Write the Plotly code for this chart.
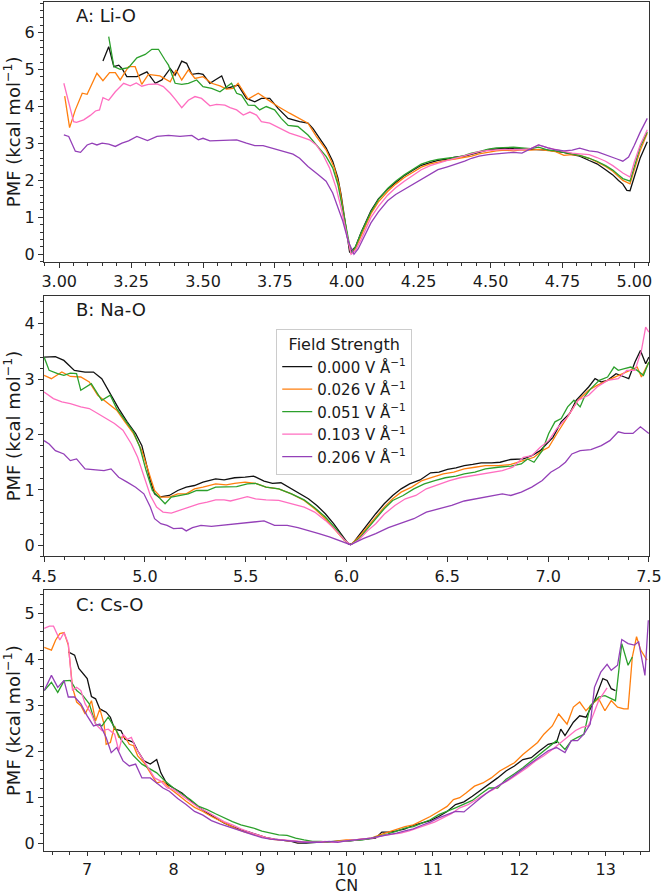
import plotly.graph_objects as go

labels = ["0.000 V Å<sup>−1</sup>", "0.026 V Å<sup>−1</sup>", "0.051 V Å<sup>−1</sup>",
          "0.103 V Å<sup>−1</sup>", "0.206 V Å<sup>−1</sup>"]
colors = ["#111111", "#ff7f0e", "#2ca02c", "#ff6ec0", "#9440b8"]

# ---------------- Panel A: Li-O ----------------
A_black_x = [3.152, 3.172, 3.19, 3.207, 3.218, 3.235, 3.27, 3.305, 3.334, 3.357, 3.386, 3.403, 3.426, 3.443, 3.461,
             3.484, 3.5, 3.524, 3.542, 3.565, 3.582, 3.605, 3.622, 3.651, 3.68, 3.703, 3.732, 3.761, 3.796, 3.836,
             3.865, 3.882, 3.9, 3.928, 3.951, 3.969, 3.98, 3.995, 4.01, 4.03, 4.05, 4.084, 4.11, 4.142, 4.17, 4.2,
             4.23, 4.259, 4.29, 4.317, 4.35, 4.376, 4.41, 4.434, 4.46, 4.492, 4.52, 4.55, 4.58, 4.609, 4.64, 4.667,
             4.7, 4.726, 4.755, 4.784, 4.81, 4.843, 4.87, 4.9, 4.925, 4.945, 4.96, 4.974, 4.985, 5.0, 5.02, 5.045]
A_black_y = [5.23, 5.62, 5.08, 5.12, 5.03, 4.81, 4.81, 4.94, 4.63, 4.72, 5.03, 4.85, 5.23, 5.17, 4.87,
             4.9, 4.87, 4.63, 4.72, 4.83, 4.49, 4.54, 4.58, 4.22, 4.13, 4.22, 4.22, 3.95, 3.68, 3.59,
             3.55, 3.41, 3.19, 2.88, 2.52, 2.07, 1.62, 0.8, 0.05, 0.2, 0.6, 1.18, 1.5, 1.76, 1.95, 2.13,
             2.28, 2.41, 2.48, 2.54, 2.58, 2.63, 2.66, 2.71, 2.76, 2.83, 2.85, 2.875, 2.86, 2.85, 2.84, 2.83,
             2.82, 2.79, 2.76, 2.7, 2.66, 2.54, 2.45, 2.29, 2.15, 2.0, 1.9, 1.73, 1.72, 2.1, 2.6, 3.05]

A_orange_x = [3.019, 3.036, 3.056, 3.08, 3.097, 3.131, 3.152, 3.175, 3.195, 3.212, 3.241, 3.264, 3.287, 3.31, 3.35,
              3.386, 3.406, 3.426, 3.449, 3.472, 3.5, 3.53, 3.559, 3.582, 3.605, 3.622, 3.657, 3.692, 3.726, 3.761,
              3.801, 3.836, 3.865, 3.894, 3.928, 3.957, 3.975, 3.986, 4.0, 4.015, 4.03, 4.05, 4.084, 4.11, 4.142,
              4.17, 4.2, 4.23, 4.259, 4.29, 4.317, 4.35, 4.376, 4.41, 4.434, 4.46, 4.492, 4.52, 4.55, 4.58, 4.609,
              4.64, 4.667, 4.7, 4.726, 4.755, 4.784, 4.81, 4.843, 4.87, 4.9, 4.925, 4.945, 4.96, 4.985, 5.0, 5.02, 5.045]
A_orange_y = [4.28, 3.43, 3.91, 4.36, 4.33, 4.9, 4.7, 4.92, 4.92, 4.72, 5.08, 5.08, 4.6, 4.87, 4.83,
              4.67, 4.99, 4.72, 4.99, 4.76, 4.81, 4.63, 4.56, 4.47, 4.49, 4.63, 4.2, 4.36, 4.18, 4.0,
              3.82, 3.68, 3.55, 3.19, 2.83, 2.34, 1.8, 1.26, 0.55, 0.02, 0.15, 0.5, 1.1, 1.42, 1.7,
              1.9, 2.08, 2.22, 2.36, 2.45, 2.5, 2.55, 2.58, 2.62, 2.66, 2.72, 2.77, 2.8, 2.82, 2.8, 2.83,
              2.82, 2.84, 2.8, 2.78, 2.68, 2.7, 2.68, 2.6, 2.5, 2.38, 2.25, 2.12, 2.0, 1.91, 2.3, 2.8, 3.28]

A_green_x = [3.172, 3.19, 3.212, 3.241, 3.27, 3.299, 3.322, 3.345, 3.368, 3.38, 3.403, 3.426, 3.449, 3.478, 3.5,
             3.53, 3.559, 3.599, 3.617, 3.634, 3.657, 3.68, 3.697, 3.72, 3.749, 3.772, 3.796, 3.83, 3.865, 3.9,
             3.928, 3.951, 3.969, 3.984, 4.0, 4.015, 4.03, 4.05, 4.084, 4.11, 4.142, 4.17, 4.2, 4.23, 4.259, 4.29,
             4.317, 4.35, 4.376, 4.41, 4.434, 4.46, 4.492, 4.52, 4.55, 4.58, 4.609, 4.64, 4.667, 4.7, 4.726, 4.755,
             4.784, 4.81, 4.843, 4.87, 4.9, 4.925, 4.945, 4.96, 4.985, 5.0, 5.02, 5.045]
A_green_y = [5.89, 5.08, 5.01, 5.05, 5.32, 5.41, 5.55, 5.55, 5.26, 5.12, 4.63, 4.6, 4.63, 4.72, 4.54,
             4.49, 4.4, 4.63, 4.36, 4.31, 4.04, 4.03, 3.91, 4.0, 3.91, 3.68, 3.49, 3.46, 3.23, 2.92,
             2.65, 2.34, 1.89, 1.3, 0.6, 0.03, 0.2, 0.58, 1.15, 1.48, 1.78, 1.98, 2.15, 2.3, 2.44, 2.52,
             2.57, 2.6, 2.62, 2.68, 2.74, 2.78, 2.85, 2.88, 2.9, 2.9, 2.88, 2.86, 2.9, 2.82, 2.8, 2.76,
             2.72, 2.68, 2.6, 2.52, 2.4, 2.28, 2.15, 2.05, 1.98, 2.4, 2.9, 3.32]

A_pink_x = [3.016, 3.05, 3.06, 3.085, 3.108, 3.126, 3.14, 3.152, 3.172, 3.195, 3.224, 3.247, 3.268, 3.287, 3.31,
            3.34, 3.362, 3.386, 3.403, 3.426, 3.449, 3.472, 3.495, 3.524, 3.547, 3.576, 3.594, 3.617, 3.64, 3.663,
            3.686, 3.703, 3.732, 3.767, 3.801, 3.836, 3.87, 3.894, 3.917, 3.94, 3.963, 3.98, 3.99, 4.005, 4.015,
            4.03, 4.05, 4.084, 4.11, 4.142, 4.17, 4.2, 4.23, 4.259, 4.29, 4.317, 4.35, 4.376, 4.41, 4.434, 4.46,
            4.492, 4.52, 4.55, 4.58, 4.609, 4.64, 4.667, 4.7, 4.726, 4.755, 4.784, 4.81, 4.843, 4.87, 4.9, 4.925,
            4.945, 4.96, 4.985, 5.0, 5.02, 5.045]
A_pink_y = [4.63, 3.59, 3.57, 3.64, 3.76, 3.88, 3.91, 4.24, 4.17, 4.4, 4.63, 4.56, 4.64, 4.55, 4.6,
            4.61, 4.54, 4.36, 4.2, 3.97, 4.17, 4.27, 4.22, 4.02, 4.06, 4.04, 3.97, 3.91, 3.77, 3.85,
            3.77, 3.59, 3.55, 3.41, 3.28, 3.19, 3.1, 2.96, 2.7, 2.34, 1.8, 1.26, 0.9, 0.3, 0.0,
            0.1, 0.4, 1.0, 1.3, 1.6, 1.8, 1.98, 2.14, 2.29, 2.4, 2.47, 2.54, 2.6, 2.67, 2.74, 2.78,
            2.81, 2.83, 2.84, 2.83, 2.83, 2.86, 2.96, 2.88, 2.83, 2.78, 2.74, 2.72, 2.7, 2.62, 2.52, 2.4,
            2.29, 2.2, 2.09, 2.5, 2.95, 3.37]

A_purple_x = [3.016, 3.033, 3.056, 3.074, 3.097, 3.114, 3.131, 3.149, 3.172, 3.195, 3.218, 3.241, 3.27, 3.307,
              3.34, 3.38, 3.42, 3.461, 3.484, 3.5, 3.524, 3.57, 3.617, 3.651, 3.68, 3.709, 3.744, 3.778, 3.813,
              3.836, 3.865, 3.9, 3.928, 3.951, 3.975, 3.986, 4.005, 4.025, 4.04, 4.06, 4.084, 4.11, 4.142, 4.17,
              4.2, 4.23, 4.259, 4.29, 4.317, 4.35, 4.376, 4.41, 4.434, 4.46, 4.492, 4.52, 4.55, 4.58, 4.609, 4.64,
              4.667, 4.7, 4.726, 4.755, 4.784, 4.81, 4.843, 4.872, 4.9, 4.915, 4.94, 4.96, 4.98, 5.0, 5.02, 5.045]
A_purple_y = [3.23, 3.19, 2.79, 2.76, 2.96, 3.01, 2.96, 3.01, 2.98, 2.92, 3.01, 3.07, 3.19, 3.08,
              3.19, 3.22, 3.19, 3.22, 3.1, 3.14, 3.07, 3.08, 3.1, 3.01, 2.94, 2.94, 2.86, 2.79, 2.71,
              2.6, 2.38, 2.16, 1.98, 1.66, 1.17, 0.9, 0.35, 0.0, 0.15, 0.45, 0.85, 1.15, 1.45, 1.62,
              1.76, 1.9, 2.03, 2.17, 2.29, 2.37, 2.43, 2.52, 2.6, 2.66, 2.7, 2.72, 2.74, 2.76, 2.74, 2.85,
              2.96, 2.88, 2.83, 2.8, 2.82, 2.875, 2.8, 2.77, 2.7, 2.65, 2.58, 2.52, 2.63, 2.95, 3.3, 3.68]

# ---------------- Panel B: Na-O ----------------
B_black_x = [4.5, 4.556, 4.598, 4.65, 4.703, 4.745, 4.786, 4.828, 4.87, 4.912, 4.954, 4.985, 5.006, 5.027, 5.048,
             5.069, 5.121, 5.163, 5.205, 5.246, 5.288, 5.351, 5.393, 5.445, 5.497, 5.539, 5.591, 5.633, 5.675,
             5.727, 5.769, 5.811, 5.853, 5.895, 5.936, 5.978, 6.01, 6.03, 6.062, 6.104, 6.145, 6.187, 6.229,
             6.271, 6.313, 6.365, 6.417, 6.459, 6.501, 6.543, 6.584, 6.626, 6.668, 6.72, 6.762, 6.815, 6.877,
             6.919, 6.961, 6.992, 7.024, 7.065, 7.107, 7.139, 7.17, 7.201, 7.233, 7.264, 7.295, 7.337, 7.379,
             7.4, 7.431, 7.458, 7.484, 7.5]
B_black_y = [3.4, 3.41, 3.34, 3.16, 3.13, 3.13, 3.01, 2.74, 2.47, 2.23, 2.02, 1.8, 1.47, 1.17, 0.93,
             0.87, 0.9, 0.99, 1.05, 1.08, 1.14, 1.2, 1.18, 1.22, 1.23, 1.25, 1.16, 1.12, 1.13,
             1.02, 0.94, 0.84, 0.72, 0.57, 0.39, 0.18, 0.02, 0.03, 0.18, 0.39, 0.57, 0.75, 0.9,
             1.02, 1.11, 1.18, 1.31, 1.32, 1.37, 1.4, 1.44, 1.46, 1.49, 1.49, 1.5, 1.55, 1.56,
             1.62, 1.71, 1.83, 1.95, 2.23, 2.38, 2.62, 2.74, 2.86, 3.01, 2.95, 2.98, 3.1, 3.04,
             3.01, 3.31, 3.52, 3.28, 3.4]

B_orange_x = [4.5, 4.536, 4.588, 4.63, 4.682, 4.724, 4.766, 4.818, 4.86, 4.901, 4.943, 4.985, 5.016, 5.048,
              5.079, 5.121, 5.163, 5.205, 5.246, 5.288, 5.351, 5.403, 5.445, 5.497, 5.549, 5.601, 5.664, 5.727,
              5.79, 5.842, 5.895, 5.947, 5.989, 6.02, 6.062, 6.104, 6.145, 6.187, 6.229, 6.271, 6.323, 6.375,
              6.428, 6.48, 6.532, 6.584, 6.637, 6.689, 6.752, 6.815, 6.877, 6.93, 6.971, 7.003, 7.044, 7.097,
              7.149, 7.201, 7.243, 7.295, 7.348, 7.4, 7.442, 7.463, 7.5]
B_orange_y = [3.07, 3.01, 3.13, 3.05, 3.04, 2.95, 2.71, 2.56, 2.44, 2.23, 2.02, 1.71, 1.35, 0.99,
              0.87, 0.87, 0.93, 0.93, 1.02, 1.05, 1.11, 1.09, 1.12, 1.14, 1.12, 1.05, 1.02, 0.93,
              0.81, 0.66, 0.48, 0.27, 0.09, 0.01, 0.15, 0.33, 0.51, 0.69, 0.84, 0.96, 1.05, 1.17,
              1.23, 1.29, 1.32, 1.38, 1.41, 1.44, 1.44, 1.46, 1.53, 1.59, 1.71, 1.77, 2.02, 2.32,
              2.62, 2.8, 2.89, 2.98, 3.07, 3.16, 3.22, 3.04, 3.31]

B_green_x = [4.5, 4.525, 4.567, 4.598, 4.63, 4.661, 4.682, 4.734, 4.786, 4.828, 4.86, 4.901, 4.943, 4.975, 5.006,
             5.037, 5.069, 5.1, 5.131, 5.173, 5.215, 5.257, 5.309, 5.351, 5.403, 5.455, 5.508, 5.549, 5.601, 5.664,
             5.727, 5.79, 5.842, 5.895, 5.947, 5.989, 6.02, 6.062, 6.104, 6.145, 6.187, 6.229, 6.281, 6.334, 6.386,
             6.438, 6.49, 6.543, 6.584, 6.637, 6.689, 6.752, 6.815, 6.867, 6.898, 6.93, 6.971, 7.003, 7.034, 7.065,
             7.097, 7.128, 7.159, 7.18, 7.212, 7.254, 7.295, 7.327, 7.348, 7.379, 7.41, 7.442, 7.473, 7.5]
B_green_y = [3.4, 3.16, 3.1, 3.07, 3.11, 3.1, 2.8, 2.92, 2.62, 2.71, 2.47, 2.26, 2.05, 1.77, 1.35,
             0.99, 0.87, 0.75, 0.87, 0.9, 0.93, 0.99, 0.99, 1.05, 1.05, 1.06, 1.11, 1.12, 1.05, 1.02,
             0.93, 0.82, 0.68, 0.51, 0.3, 0.1, 0.01, 0.12, 0.3, 0.48, 0.66, 0.81, 0.9, 1.02, 1.11,
             1.17, 1.22, 1.25, 1.29, 1.32, 1.38, 1.41, 1.43, 1.47, 1.56, 1.5, 1.71, 2.02, 2.23, 2.29,
             2.5, 2.62, 2.5, 2.68, 2.83, 2.98, 3.04, 3.22, 3.16, 3.19, 3.22, 3.16, 3.07, 3.31]

B_pink_x = [4.5, 4.546, 4.588, 4.63, 4.682, 4.724, 4.766, 4.807, 4.849, 4.891, 4.933, 4.964, 4.995, 5.027, 5.058,
            5.09, 5.131, 5.173, 5.225, 5.267, 5.309, 5.351, 5.393, 5.424, 5.466, 5.508, 5.549, 5.601, 5.664, 5.727,
            5.79, 5.842, 5.895, 5.947, 5.989, 6.02, 6.062, 6.104, 6.145, 6.187, 6.24, 6.292, 6.344, 6.396, 6.459,
            6.511, 6.563, 6.615, 6.668, 6.72, 6.773, 6.825, 6.877, 6.919, 6.961, 7.003, 7.044, 7.097, 7.149, 7.201,
            7.243, 7.295, 7.348, 7.39, 7.431, 7.463, 7.484, 7.5]
B_pink_y = [2.77, 2.65, 2.59, 2.56, 2.5, 2.47, 2.38, 2.29, 2.2, 2.08, 1.83, 1.59, 1.23, 0.9, 0.69,
            0.6, 0.58, 0.63, 0.69, 0.75, 0.78, 0.82, 0.82, 0.8, 0.84, 0.88, 0.84, 0.82, 0.81, 0.75,
            0.69, 0.6, 0.45, 0.27, 0.1, 0.01, 0.1, 0.26, 0.39, 0.56, 0.72, 0.84, 0.9, 1.02, 1.11,
            1.17, 1.22, 1.25, 1.29, 1.32, 1.35, 1.41, 1.59, 1.62, 1.77, 1.89, 2.11, 2.32, 2.62, 2.71,
            2.86, 2.98, 3.01, 3.16, 3.16, 3.52, 3.94, 3.85]

B_purple_x = [4.5, 4.525, 4.556, 4.598, 4.63, 4.661, 4.703, 4.755, 4.797, 4.832, 4.87, 4.912, 4.954, 4.995, 5.027,
              5.048, 5.079, 5.11, 5.142, 5.184, 5.205, 5.236, 5.278, 5.33, 5.382, 5.435, 5.497, 5.549, 5.591, 5.643,
              5.706, 5.759, 5.811, 5.863, 5.915, 5.967, 6.02, 6.083, 6.145, 6.208, 6.271, 6.334, 6.396, 6.459, 6.522,
              6.584, 6.647, 6.71, 6.773, 6.815, 6.867, 6.919, 6.971, 7.013, 7.055, 7.086, 7.118, 7.159, 7.212, 7.264,
              7.306, 7.348, 7.379, 7.421, 7.458, 7.5]
B_purple_y = [1.89, 1.83, 1.71, 1.65, 1.53, 1.56, 1.38, 1.37, 1.35, 1.38, 1.23, 1.14, 1.05, 0.93, 0.69,
              0.48, 0.39, 0.36, 0.3, 0.31, 0.26, 0.32, 0.36, 0.34, 0.36, 0.39, 0.4, 0.42, 0.44, 0.36,
              0.36, 0.32, 0.27, 0.21, 0.15, 0.08, 0.01, 0.12, 0.21, 0.32, 0.4, 0.48, 0.6, 0.66, 0.72,
              0.8, 0.84, 0.88, 0.93, 0.9, 0.96, 1.05, 1.17, 1.32, 1.41, 1.5, 1.65, 1.71, 1.73, 1.8,
              1.89, 2.05, 2.02, 2.02, 2.14, 2.02]

# ---------------- Panel C: Cs-O ----------------
C_black_x = [6.78, 6.854, 6.903, 6.976, 7.0, 7.049, 7.097, 7.146, 7.219, 7.268, 7.317, 7.39, 7.438, 7.487, 7.536,
             7.584, 7.657, 7.73, 7.804, 7.852, 7.925, 7.998, 8.096, 8.193, 8.291, 8.388, 8.485, 8.583, 8.68, 8.778,
             8.875, 8.972, 9.07, 9.167, 9.265, 9.362, 9.435, 9.533, 9.654, 9.752, 9.849, 9.946, 10.044, 10.141,
             10.239, 10.336, 10.409, 10.482, 10.58, 10.677, 10.774, 10.872, 10.969, 11.067, 11.164, 11.261, 11.359,
             11.456, 11.554, 11.651, 11.748, 11.846, 11.943, 12.041, 12.138, 12.235, 12.333, 12.43, 12.479, 12.528,
             12.625, 12.698, 12.771, 12.869, 12.917, 12.966, 13.015, 13.063, 13.112]
C_black_y = [4.16, 4.09, 3.8, 3.63, 3.58, 3.19, 3.14, 2.92, 2.85, 2.74, 2.48, 2.45, 2.26, 2.23, 2.19,
             2.01, 1.79, 1.72, 1.82, 1.53, 1.28, 1.2, 1.09, 0.93, 0.78, 0.66, 0.55, 0.44, 0.36, 0.29,
             0.24, 0.18, 0.12, 0.09, 0.07, 0.04, 0.0, 0.0, 0.02, 0.02, 0.04, 0.04, 0.05, 0.07,
             0.09, 0.11, 0.24, 0.24, 0.27, 0.31, 0.39, 0.44, 0.49, 0.58, 0.69, 0.84, 0.9,
             1.02, 1.15, 1.29, 1.42, 1.57, 1.68, 1.82, 1.86, 2.01, 2.15, 2.19, 2.48, 2.34,
             2.63, 2.77, 2.74, 3.1, 3.32, 3.58, 3.54, 3.36, 3.32]

C_orange_x = [6.503, 6.586, 6.635, 6.683, 6.732, 6.781, 6.83, 6.878, 6.927, 6.976, 7.049, 7.097, 7.146, 7.195,
              7.219, 7.268, 7.317, 7.365, 7.438, 7.487, 7.536, 7.584, 7.657, 7.73, 7.804, 7.877, 7.95, 8.047, 8.144,
              8.242, 8.339, 8.437, 8.534, 8.632, 8.729, 8.826, 8.924, 9.021, 9.119, 9.216, 9.313, 9.411, 9.508,
              9.606, 9.703, 9.8, 9.898, 9.995, 10.093, 10.19, 10.287, 10.385, 10.482, 10.58, 10.677, 10.774, 10.872,
              10.969, 11.067, 11.164, 11.237, 11.31, 11.383, 11.481, 11.578, 11.675, 11.773, 11.846, 11.943, 12.041,
              12.138, 12.211, 12.284, 12.381, 12.455, 12.552, 12.625, 12.698, 12.771, 12.844, 12.917, 12.99, 13.063,
              13.136, 13.209, 13.258, 13.307, 13.356, 13.404, 13.477]
C_orange_y = [4.26, 4.2, 4.42, 4.56, 4.58, 4.31, 3.39, 3.07, 2.99, 2.81, 3.1, 2.66, 2.92, 2.59,
              2.15, 2.19, 2.55, 2.3, 2.31, 2.15, 2.12, 1.9, 1.75, 1.53, 1.31, 1.35, 1.2, 1.06, 0.91,
              0.78, 0.69, 0.58, 0.49, 0.4, 0.31, 0.24, 0.2, 0.15, 0.09, 0.07, 0.05, 0.04, 0.02,
              0.02, 0.02, 0.02, 0.05, 0.07, 0.07, 0.09, 0.11, 0.18, 0.24, 0.31, 0.36, 0.4, 0.49,
              0.58, 0.69, 0.8, 0.95, 0.99, 1.09, 1.24, 1.31, 1.42, 1.57, 1.64, 1.75, 1.93,
              2.08, 2.19, 2.37, 2.55, 2.81, 2.59, 2.96, 3.07, 2.88, 3.03, 3.14, 2.88, 3.1,
              2.96, 2.92, 2.92, 4.05, 4.49, 4.2, 3.98]

C_green_x = [6.503, 6.586, 6.659, 6.732, 6.805, 6.878, 6.951, 7.024, 7.097, 7.17, 7.243, 7.317, 7.39, 7.463, 7.536,
             7.633, 7.73, 7.804, 7.901, 7.998, 8.096, 8.193, 8.291, 8.388, 8.485, 8.583, 8.68, 8.778, 8.875, 8.924,
             9.021, 9.119, 9.216, 9.313, 9.411, 9.508, 9.606, 9.703, 9.8, 9.898, 9.995, 10.093, 10.19, 10.287,
             10.385, 10.482, 10.58, 10.677, 10.774, 10.872, 10.969, 11.067, 11.164, 11.261, 11.359, 11.456, 11.554,
             11.651, 11.748, 11.846, 11.943, 12.041, 12.138, 12.235, 12.333, 12.43, 12.528, 12.601, 12.674, 12.747,
             12.82, 12.917, 12.99, 13.063, 13.112, 13.185, 13.258, 13.307]
C_green_y = [3.32, 3.5, 3.28, 3.53, 3.54, 3.32, 3.21, 3.03, 2.59, 2.55, 2.74, 2.52, 2.26, 2.08, 1.9,
             1.72, 1.61, 1.53, 1.35, 1.2, 1.07, 0.95, 0.8, 0.73, 0.64, 0.55, 0.47, 0.4, 0.36, 0.33,
             0.26, 0.22, 0.18, 0.17, 0.11, 0.07, 0.04, 0.04, 0.02, 0.04, 0.05, 0.05, 0.07, 0.11,
             0.15, 0.2, 0.26, 0.33, 0.36, 0.44, 0.51, 0.62, 0.69, 0.77, 0.85, 0.93, 1.07,
             1.2, 1.2, 1.39, 1.51, 1.64, 1.79, 1.93, 2.08, 2.23, 2.04, 2.23, 2.3, 2.37,
             2.99, 3.18, 3.21, 3.14, 3.1, 4.34, 3.87, 4.05]

C_pink_x = [6.503, 6.562, 6.61, 6.683, 6.732, 6.781, 6.83, 6.878, 6.927, 6.976, 7.049, 7.097, 7.17, 7.243, 7.317,
            7.365, 7.414, 7.463, 7.511, 7.56, 7.633, 7.706, 7.779, 7.852, 7.925, 7.998, 8.096, 8.193, 8.291, 8.388,
            8.485, 8.583, 8.68, 8.778, 8.875, 8.972, 9.07, 9.167, 9.265, 9.362, 9.46, 9.557, 9.654, 9.752, 9.849,
            9.946, 10.044, 10.141, 10.239, 10.336, 10.433, 10.531, 10.628, 10.726, 10.823, 10.92, 11.018, 11.115,
            11.213, 11.31, 11.407, 11.505, 11.602, 11.7, 11.797, 11.894, 11.992, 12.089, 12.187, 12.284, 12.381,
            12.479, 12.576, 12.65, 12.722, 12.796, 12.844, 12.917, 13.015]
C_pink_y = [4.67, 4.72, 4.72, 4.42, 4.58, 4.34, 3.32, 3.39, 3.32, 3.03, 2.81, 2.59, 2.45, 2.48, 2.37,
            2.01, 2.37, 2.26, 2.3, 2.08, 1.86, 1.64, 1.42, 1.35, 1.2, 1.17, 1.04, 0.9, 0.77, 0.68,
            0.58, 0.47, 0.4, 0.31, 0.24, 0.18, 0.12, 0.09, 0.07, 0.05, 0.04, 0.02, 0.02, 0.04, 0.02,
            0.04, 0.05, 0.07, 0.09, 0.12, 0.17, 0.2, 0.22, 0.27, 0.33, 0.4, 0.46, 0.55,
            0.64, 0.77, 0.84, 0.95, 1.07, 1.17, 1.29, 1.39, 1.51, 1.64, 1.79, 1.9, 2.04,
            2.19, 2.34, 2.45, 2.52, 2.55, 2.74, 3.1, 3.38]

C_purple_x = [6.503, 6.537, 6.586, 6.659, 6.732, 6.781, 6.854, 6.927, 7.0, 7.073, 7.146, 7.219, 7.278, 7.341, 7.414,
              7.487, 7.56, 7.633, 7.73, 7.804, 7.877, 7.95, 8.047, 8.144, 8.242, 8.339, 8.437, 8.534, 8.632, 8.729,
              8.826, 8.924, 9.021, 9.119, 9.216, 9.313, 9.411, 9.508, 9.606, 9.703, 9.8, 9.898, 9.995, 10.093,
              10.19, 10.287, 10.385, 10.482, 10.58, 10.677, 10.774, 10.872, 10.969, 11.067, 11.164, 11.261, 11.359,
              11.456, 11.554, 11.651, 11.748, 11.846, 11.943, 12.041, 12.138, 12.235, 12.333, 12.43, 12.528, 12.601,
              12.674, 12.747, 12.82, 12.869, 12.942, 13.015, 13.063, 13.136, 13.185, 13.258, 13.331, 13.38, 13.453,
              13.492]
C_purple_y = [3.32, 3.47, 3.65, 3.39, 3.54, 3.18, 3.18, 3.03, 2.77, 2.55, 2.59, 2.3, 1.97, 2.08, 1.79,
              1.68, 1.72, 1.42, 1.42, 1.31, 1.2, 1.13, 0.97, 0.84, 0.69, 0.61, 0.49, 0.42, 0.36, 0.29,
              0.24, 0.18, 0.12, 0.09, 0.07, 0.05, 0.04, 0.02, 0.02, 0.02, 0.04, 0.02, 0.05, 0.07,
              0.09, 0.11, 0.15, 0.18, 0.22, 0.27, 0.31, 0.39, 0.46, 0.55, 0.62, 0.69, 0.68,
              0.84, 0.99, 1.13, 1.24, 1.35, 1.48, 1.61, 1.75, 1.88, 2.01, 2.08, 1.97, 2.23,
              2.23, 2.37, 2.59, 3.39, 3.72, 3.89, 3.76, 3.87, 4.43, 4.34, 4.31, 4.38, 3.65,
              4.85]

panel_titles = ["A: Li-O", "B: Na-O", "C: Cs-O"]
x_ranges = [[2.947, 5.051], [4.4995, 7.5005], [6.5, 13.5]]
y_ranges = [[-0.2, 6.83], [-0.2, 4.51], [-0.17, 5.5]]
x_tickvals = [[3.0, 3.25, 3.5, 3.75, 4.0, 4.25, 4.5, 4.75, 5.0],
              [4.5, 5.0, 5.5, 6.0, 6.5, 7.0, 7.5],
              [7, 8, 9, 10, 11, 12, 13]]
x_ticktext = [["3.00", "3.25", "3.50", "3.75", "4.00", "4.25", "4.50", "4.75", "5.00"],
              ["4.5", "5.0", "5.5", "6.0", "6.5", "7.0", "7.5"],
              ["7", "8", "9", "10", "11", "12", "13"]]
y_tickvals = [[0, 1, 2, 3, 4, 5, 6], [0, 1, 2, 3, 4], [0, 1, 2, 3, 4, 5]]
x_minor = [0.05, 0.1, 0.2]

panels = [
    [(A_black_x, A_black_y), (A_orange_x, A_orange_y), (A_green_x, A_green_y), (A_pink_x, A_pink_y), (A_purple_x, A_purple_y)],
    [(B_black_x, B_black_y), (B_orange_x, B_orange_y), (B_green_x, B_green_y), (B_pink_x, B_pink_y), (B_purple_x, B_purple_y)],
    [(C_black_x, C_black_y), (C_orange_x, C_orange_y), (C_green_x, C_green_y), (C_pink_x, C_pink_y), (C_purple_x, C_purple_y)],
]

W, H = 663, 894
ML, MR, MT, MB = 44, 12, 1, 43
plot_h = H - MT - MB
plot_w = W - ML - MR
extents = [(1, 261), (295, 556), (590, 851)]
domains = [[(H - MB - b) / plot_h, (H - MB - t) / plot_h] for t, b in extents]

fig = go.Figure()
font_family = "DejaVu Sans, Arial, sans-serif"

for p, series in enumerate(panels):
    xa = "x" if p == 0 else f"x{p+1}"
    ya = "y" if p == 0 else f"y{p+1}"
    for s, (xs, ys) in enumerate(series):
        fig.add_trace(go.Scatter(
            x=xs, y=ys, mode="lines", name=labels[s],
            line=dict(color=colors[s], width=1.3),
            xaxis=xa, yaxis=ya, showlegend=(p == 1)))

axis_common = dict(
    showline=True, mirror=True, linecolor="#333333", linewidth=1.2,
    ticks="outside", ticklen=5, tickwidth=1.1, tickcolor="#333333",
    showgrid=False, zeroline=False,
    tickfont=dict(family=font_family, size=16, color="#1a1a1a"),
)

layout = dict(
    width=W, height=H,
    margin=dict(l=ML, r=MR, t=MT, b=MB),
    plot_bgcolor="white", paper_bgcolor="white",
    font=dict(family=font_family, size=16, color="#1a1a1a"),
    legend=dict(
        title=dict(text="Field Strength", font=dict(size=16), side="top center"),
        x=(277 - ML) / plot_w, y=(H - MB - 328) / plot_h,
        xanchor="left", yanchor="top",
        bgcolor="rgba(255,255,255,0.85)", bordercolor="#cccccc", borderwidth=1,
        font=dict(family=font_family, size=15),
        tracegroupgap=0,
    ),
    annotations=[],
)

for p in range(3):
    xk = "xaxis" if p == 0 else f"xaxis{p+1}"
    yk = "yaxis" if p == 0 else f"yaxis{p+1}"
    ya_name = "y" if p == 0 else f"y{p+1}"
    xa_name = "x" if p == 0 else f"x{p+1}"
    xax = dict(axis_common, domain=[0, 1], range=x_ranges[p], anchor=ya_name,
               tickmode="array", tickvals=x_tickvals[p], ticktext=x_ticktext[p],
               ticklabeloverflow="allow",
               minor=dict(dtick=x_minor[p], tick0=0, ticks="outside", ticklen=3, tickcolor="#333333"))
    if p == 2:
        xax["ticklen"] = 4
    yax = dict(axis_common, domain=domains[p], range=y_ranges[p], anchor=xa_name,
               tickmode="array", tickvals=y_tickvals[p],
               minor=dict(dtick=0.2, tick0=0, ticks="outside", ticklen=3, tickcolor="#333333"),
               title=dict(text="PMF (kcal mol<sup>−1</sup>)", font=dict(size=18), standoff=6))
    layout[xk] = xax
    layout[yk] = yax
    layout["annotations"].append(dict(
        text=panel_titles[p], xref=f"{xa_name} domain", yref=f"{ya_name} domain",
        x=(74 - ML) / plot_w, y=1 - 14 / (extents[p][1] - extents[p][0]),
        xanchor="left", yanchor="middle", showarrow=False,
        font=dict(family=font_family, size=18, color="#1a1a1a")))

# x-axis title "CN" for the bottom panel
layout["annotations"].append(dict(
    text="CN", xref="paper", yref="paper", x=0.5, y=(H - MB - 886) / plot_h,
    xanchor="center", yanchor="middle", showarrow=False,
    font=dict(family=font_family, size=16, color="#1a1a1a")))

fig.update_layout(**layout)
fig.write_html("out.html")
